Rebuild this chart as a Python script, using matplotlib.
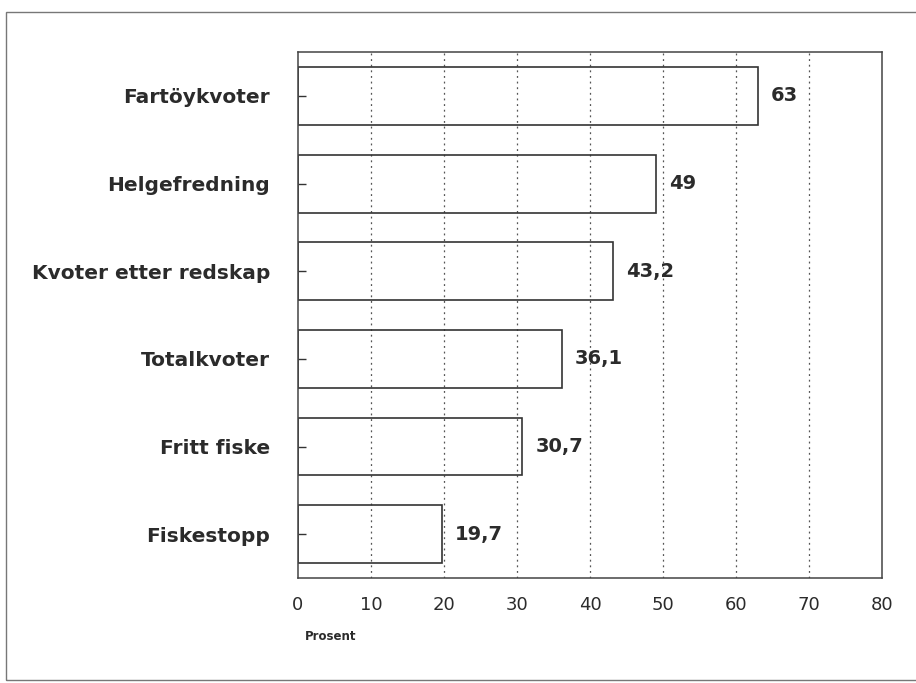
import matplotlib.pyplot as plt
from matplotlib.patches import Rectangle

# Data
categories = ["Fartöykvoter", "Helgefredning", "Kvoter etter redskap",
              "Totalkvoter", "Fritt fiske", "Fiskestopp"]
values = [63, 49, 43.2, 36.1, 30.7, 19.7]
value_labels = ["63", "49", "43,2", "36,1", "30,7", "19,7"]
x_ticks = [0, 10, 20, 30, 40, 50, 60, 70, 80]

plt.rcParams['font.family'] = ['DejaVu Sans']
text_color = '#2b2b2b'

fig = plt.figure(figsize=(9.16, 6.83), dpi=100)
ax = fig.add_axes([0.3253, 0.1537, 0.6376, 0.770])

# outer frame round the whole picture
fig.patches.append(Rectangle((0.007, 0.004), 0.995, 0.978, transform=fig.transFigure,
                             fill=False, edgecolor='#777777', linewidth=1.0))

ypos = list(range(len(categories)))[::-1]

# dotted grid
for t in x_ticks[1:-1]:
    ax.axvline(t, color='#555555', linestyle=(0, (1.5, 3)), linewidth=0.9, zorder=1)

ax.barh(ypos, values, height=0.66, facecolor='none', edgecolor='#333333',
        linewidth=1.2, zorder=2)

for y, v, lab in zip(ypos, values, value_labels):
    ax.text(v + 1.8, y, lab, va='center', ha='left', fontsize=14,
            fontweight='bold', color=text_color)

ax.set_xlim(0, 80)
ax.set_ylim(-0.5, 5.5)
ax.set_xticks(x_ticks)
ax.set_xticklabels([str(t) for t in x_ticks], fontsize=13, color=text_color)
ax.set_yticks(ypos)
ax.set_yticklabels(categories, fontsize=14.5, fontweight='bold', color=text_color)
ax.tick_params(axis='x', length=0, pad=13)
ax.tick_params(axis='y', direction='in', length=6, width=1, pad=20, color='#333333')

for s in ax.spines.values():
    s.set_color('#444444')
    s.set_linewidth(1.1)

fig.text(0.333, 0.063, "Prosent", fontsize=8.5, fontweight='bold', color=text_color)

fig.savefig("out.png", dpi=100)
